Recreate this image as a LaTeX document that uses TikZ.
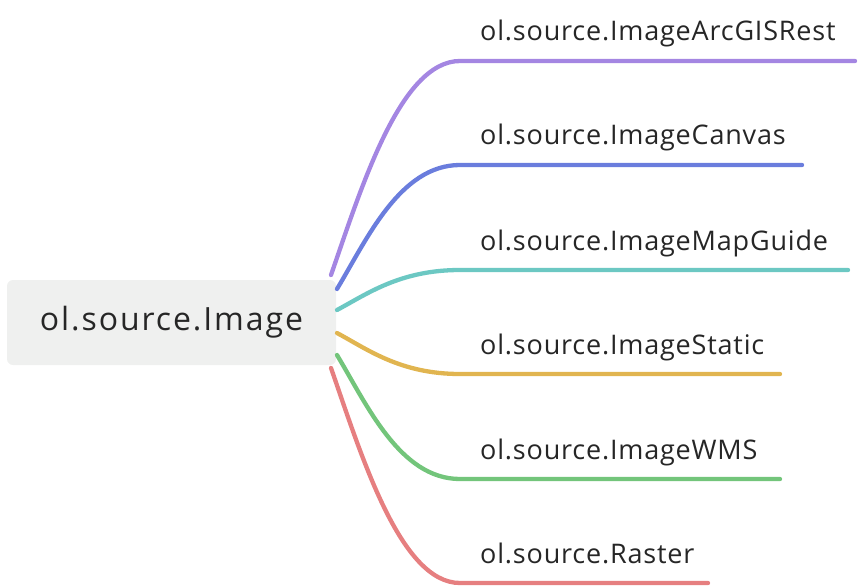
\documentclass[tikz,border=0pt]{standalone}
\usepackage{fontspec}
\setmainfont{Open Sans}
\newfontfamily\leaffont[LetterSpace=3]{Open Sans}
\newfontfamily\rootfont[LetterSpace=6]{Open Sans}
\definecolor{cpurple}{HTML}{A486E2}
\definecolor{cblue}{HTML}{6A7DDD}
\definecolor{cteal}{HTML}{6CC8C3}
\definecolor{cyellow}{HTML}{E1B550}
\definecolor{cgreen}{HTML}{73C57B}
\definecolor{cred}{HTML}{E67F80}
\definecolor{rootfill}{HTML}{EFF0EF}
\definecolor{txt}{HTML}{262626}
\begin{document}
\begin{tikzpicture}[x=1pt,y=-1pt,
  rootbox/.style={fill=rootfill, rounded corners=6pt, minimum width=329pt, minimum height=85pt, inner sep=0pt, font=\rootfont\fontsize{32}{38}\selectfont, text=txt},
  leaf/.style={anchor=base west, inner sep=0pt, font=\leaffont\fontsize{27}{32}\selectfont, text=txt},
  branch/.style={line width=4.3pt, line cap=round}]
\useasboundingbox (0,0) rectangle (858,588);
\node[rootbox] (root) at (171.5,322.5) {ol.source.Image};
% start coordinates on the root box
\coordinate (s1) at (331,275);
\coordinate (s2) at (337,289);
\coordinate (s3) at (337,310);
\coordinate (s4) at (337,333);
\coordinate (s5) at (337,355);
\coordinate (s6) at (331,368);
% leaves
\node[leaf] (l1) at (480,41) {ol.source.ImageArcGISRest};
\node[leaf] (l2) at (480,145) {ol.source.ImageCanvas};
\node[leaf] (l3) at (480,250) {ol.source.ImageMapGuide};
\node[leaf] (l4) at (480,354) {ol.source.ImageStatic};
\node[leaf] (l5) at (480,459) {ol.source.ImageWMS};
\node[leaf] (l6) at (480,563) {ol.source.Raster};
\coordinate (a1) at (460,61);  \coordinate (e1) at (855,61);
\coordinate (a2) at (460,165); \coordinate (e2) at (802,165);
\coordinate (a3) at (460,270); \coordinate (e3) at (848,270);
\coordinate (a4) at (460,374); \coordinate (e4) at (780,374);
\coordinate (a5) at (460,479); \coordinate (e5) at (780,479);
\coordinate (a6) at (460,583); \coordinate (e6) at (708,583);
\draw[branch,cpurple] (s1) .. controls (361,189) and (400,61) .. (a1) -- (e1);
\draw[branch,cblue] (s2) .. controls (367,239) and (400,165) .. (a2) -- (e2);
\draw[branch,cteal] (s3) .. controls (367,294) and (400,270) .. (a3) -- (e3);
\draw[branch,cyellow] (s4) .. controls (367,349) and (400,374) .. (a4) -- (e4);
\draw[branch,cgreen] (s5) .. controls (367,405) and (400,479) .. (a5) -- (e5);
\draw[branch,cred] (s6) .. controls (361,454) and (400,583) .. (a6) -- (e6);
\end{tikzpicture}
\end{document}
